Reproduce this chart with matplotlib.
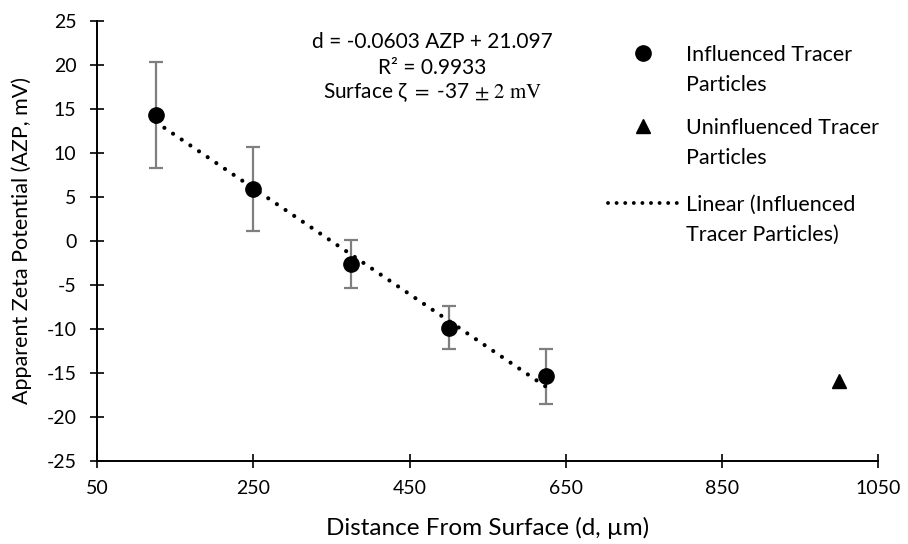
import matplotlib
import numpy as np

matplotlib.use("Agg")
import matplotlib.pyplot as plt
from matplotlib.lines import Line2D

plt.rcParams["font.family"] = ["Lato", "DejaVu Sans"]
plt.rcParams["mathtext.fontset"] = "stix"
plt.rcParams["axes.unicode_minus"] = False

# influenced tracer particles
distance = [125, 250, 375, 500, 625]
azp = [14.3, 5.95, -2.6, -9.9, -15.4]
err_low = [8.3, 1.15, -5.4, -12.3, -18.5]
err_high = [20.3, 10.7, 0.1, -7.4, -12.3]

# uninfluenced tracer particles
far_distance = [1000]
far_azp = [-15.9]

x_ticks = [50, 250, 450, 650, 850, 1050]
y_ticks = list(range(-25, 30, 5))

legend_labels = [
    "Influenced Tracer\nParticles",
    "Uninfluenced Tracer\nParticles",
    "Linear (Influenced\nTracer Particles)",
]

DOTS = (0, (0.01, 2.5))
FS = 15
LEG_FS = 15.5

figure = plt.figure(figsize=(9.08, 5.44), dpi=100)
axis = figure.add_axes([0.107, 0.1526, 0.86, 0.809])

azp_arr = np.array(azp)
yerr = [azp_arr - np.array(err_low), np.array(err_high) - azp_arr]
axis.errorbar(distance, azp, yerr=yerr, fmt="none", ecolor="#7f7f7f",
              elinewidth=1.6, capsize=5, capthick=1.6, zorder=2)

# linear trendline from the influenced points
slope, intercept = np.polyfit(distance, azp, 1)
fit_x = np.array([distance[0], distance[-1]])
axis.plot(fit_x, slope * fit_x + intercept, color="black", linestyle=DOTS,
          linewidth=3, dash_capstyle="round", zorder=3)

axis.plot(distance, azp, "o", color="black", markersize=11, zorder=4)
axis.plot(far_distance, far_azp, "^", color="black", markersize=10, zorder=4)

axis.set_xlim(50, 1050)
axis.set_ylim(-25, 25)
axis.set_xticks(x_ticks)
axis.set_yticks(y_ticks)
axis.tick_params(direction="inout", length=10, width=1.2, labelsize=14)
axis.tick_params(axis="y", pad=10)
axis.tick_params(axis="x", pad=9)
axis.spines["top"].set_visible(False)
axis.spines["right"].set_visible(False)
axis.spines["left"].set_linewidth(1.4)
axis.spines["bottom"].set_linewidth(1.4)

axis.set_xlabel("Distance From Surface (d, µm)", fontsize=17.5, labelpad=14)
axis.set_ylabel("Apparent Zeta Potential (AZP, mV)", fontsize=15.5, labelpad=10)

axis.text(0.429, 0.952, "d = -0.0603 AZP + 21.097", transform=axis.transAxes,
          ha="center", va="center", fontsize=FS)
axis.text(0.429, 0.893, "R² = 0.9933", transform=axis.transAxes,
          ha="center", va="center", fontsize=FS)
axis.text(0.429, 0.836, r"Surface ζ $=$ -37 $\pm$ $2\ \mathrm{mV}$",
          transform=axis.transAxes, ha="center", va="center", fontsize=FS)

# legend drawn by hand so each handle sits on its first text line
def fig_xy(px, py):
    return px / 908, 1 - py / 544

row_y = [53, 126, 203]
figure.add_artist(Line2D(*zip(fig_xy(643, row_y[0])), marker="o", color="black",
                         markersize=11, transform=figure.transFigure))
figure.add_artist(Line2D(*zip(fig_xy(643, row_y[1])), marker="^", color="black",
                         markersize=10, transform=figure.transFigure))
x0, y0 = fig_xy(608, row_y[2])
x1, _ = fig_xy(677, row_y[2])
figure.add_artist(Line2D([x0, x1], [y0, y0], color="black", linestyle=(0, (0.01, 2.2)),
                         linewidth=2.8, dash_capstyle="round",
                         transform=figure.transFigure))
for label, py in zip(legend_labels, row_y):
    tx, ty = fig_xy(686, py - 8)
    figure.text(tx, ty, label, ha="left", va="top", fontsize=LEG_FS, linespacing=1.62)

figure.savefig("out.png", dpi=100)
plt.close(figure)
